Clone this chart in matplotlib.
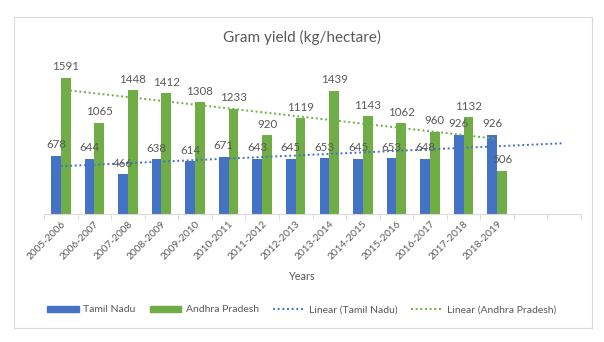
import matplotlib
matplotlib.use('Agg')
import matplotlib.pyplot as plt
from matplotlib.patches import Rectangle
from matplotlib.lines import Line2D
import numpy as np

plt.rcParams['font.family'] = ['Lato', 'DejaVu Sans']

years = ["2005-2006", "2006-2007", "2007-2008", "2008-2009", "2009-2010",
         "2010-2011", "2011-2012", "2012-2013", "2013-2014", "2014-2015",
         "2015-2016", "2016-2017", "2017-2018", "2018-2019"]
tamil_nadu = [678, 644, 466, 638, 614, 671, 643, 645, 653, 645, 653, 648, 926, 926]
andhra_pradesh = [1591, 1065, 1448, 1412, 1308, 1233, 920, 1119, 1439, 1143, 1062, 960, 1132, 506]

BLUE = "#4472C4"
GREEN = "#70AD47"
TXT = "#595959"
n_slots = 16  # two empty categories at the end, as in the original

fig = plt.figure(figsize=(6.04, 3.42), dpi=100)
fig.patch.set_facecolor("white")
fig.add_artist(Rectangle((14 / 604, 1 - 328 / 342), 578 / 604, 311 / 342,
                         transform=fig.transFigure, fill=False,
                         edgecolor="#D9D9D9", linewidth=0.8))

ax = fig.add_axes([44 / 604, 1 - 214 / 342, 537 / 604, 154 / 342])
x = np.arange(len(years))
w = 0.29
ax.bar(x - w / 2, tamil_nadu, w, color=BLUE, zorder=2)
ax.bar(x + w / 2, andhra_pradesh, w, color=GREEN, zorder=2)

for xi, v in zip(x - w / 2, tamil_nadu):
    ax.annotate(str(v), (xi, v), xytext=(0, 4), textcoords="offset points",
                ha="center", va="bottom", fontsize=8.3, color=TXT, zorder=4)
for xi, v in zip(x + w / 2, andhra_pradesh):
    ax.annotate(str(v), (xi, v), xytext=(0, 4), textcoords="offset points",
                ha="center", va="bottom", fontsize=8.3, color=TXT, zorder=4)

# linear trendlines (Excel style), Tamil Nadu forecast forward 2 periods
xf = np.arange(1, len(years) + 1)
k1, b1 = np.polyfit(xf, tamil_nadu, 1)
k2, b2 = np.polyfit(xf, andhra_pradesh, 1)
t1 = np.array([1, len(years) + 2])
t2 = np.array([1, len(years)])
ax.plot(t1 - 1, k1 * t1 + b1, color=BLUE, lw=1.4, ls=(0, (1, 1.4)), zorder=3)
ax.plot(t2 - 1, k2 * t2 + b2, color=GREEN, lw=1.4, ls=(0, (1, 1.4)), zorder=3)

ax.set_xlim(-0.5, n_slots - 0.5)
ax.set_ylim(0, 1800)
ax.set_yticks([])
for s in ["top", "right", "left"]:
    ax.spines[s].set_visible(False)
ax.spines["bottom"].set_color("#D9D9D9")
ax.set_xticks(x)
ax.set_xticklabels(years, rotation=45, ha="right", rotation_mode="anchor",
                   fontsize=7.3, color=TXT)
ax.tick_params(axis="x", length=0, pad=4)
ax.set_xticks(np.arange(n_slots + 1) - 0.5, minor=True)
ax.tick_params(axis="x", which="minor", length=4, color="#D9D9D9")

fig.text(0.5, 1 - 37 / 342, "Gram yield (kg/hectare)", ha="center", va="center",
         fontsize=11, color=TXT)
fig.text(0.5, 1 - 277 / 342, "Years", ha="center", va="center",
         fontsize=7.8, color=TXT)

handles = [Rectangle((0, 0), 1, 1, color=BLUE),
           Rectangle((0, 0), 1, 1, color=GREEN),
           Line2D([], [], color=BLUE, lw=1.4, ls=(0, (1, 1.4))),
           Line2D([], [], color=GREEN, lw=1.4, ls=(0, (1, 1.4)))]
labels = ["Tamil Nadu", "Andhra Pradesh", "Linear (Tamil Nadu)", "Linear (Andhra Pradesh)"]
leg = fig.legend(handles, labels, loc="center", bbox_to_anchor=(0.5, 1 - 310 / 342),
                 ncol=4, frameon=False, fontsize=7.5, handlelength=3.0,
                 handleheight=0.5, columnspacing=1.35, handletextpad=0.45)
for t in leg.get_texts():
    t.set_color(TXT)

plt.savefig("out.png", dpi=100)
